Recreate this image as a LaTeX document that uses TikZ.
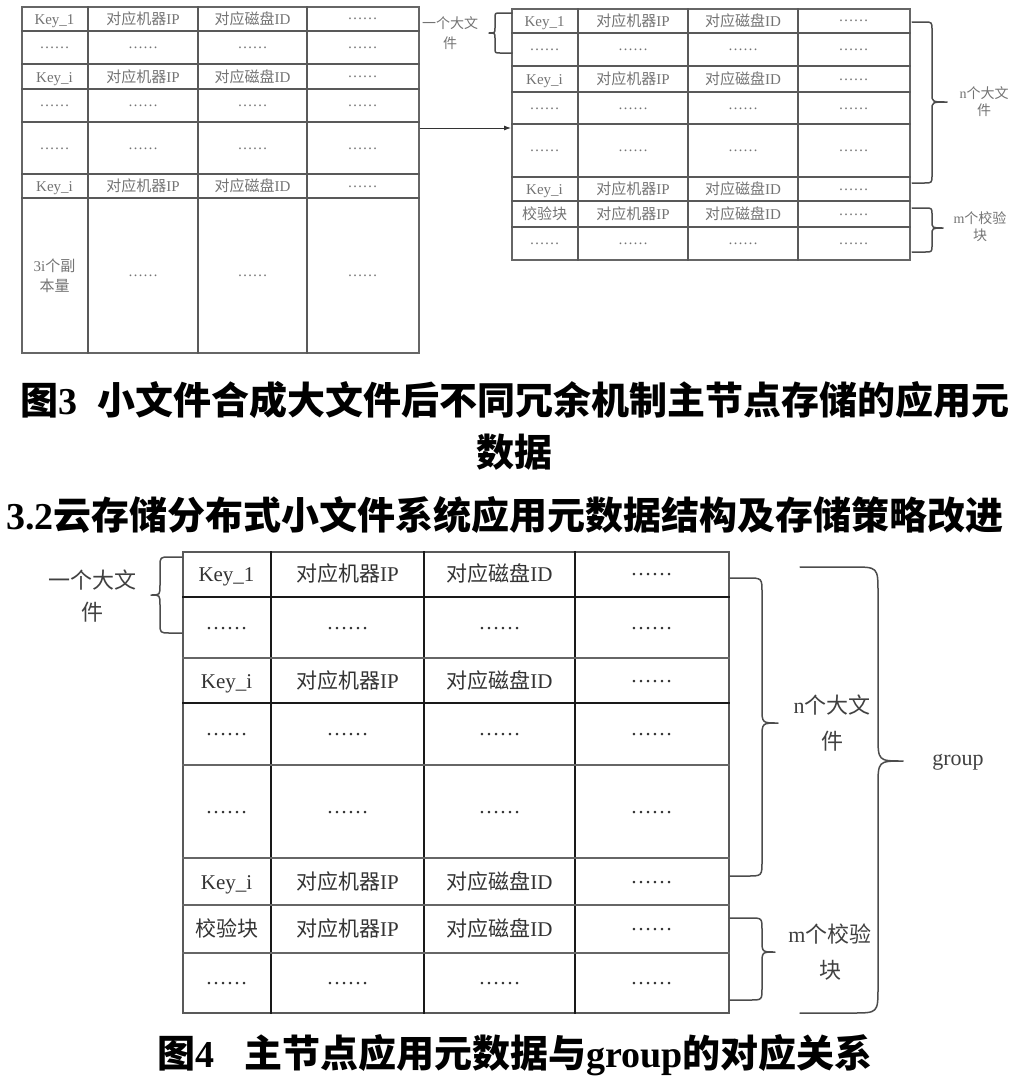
\documentclass[tikz,border=0pt]{standalone}
\usepackage{fontspec}
\setmainfont{Liberation Serif}
\newfontfamily\cjk{Noto Sans CJK SC}
\usetikzlibrary{arrows.meta, calc}

\newcommand{\zh}[1]{{\cjk #1}}
\newcommand{\dd}{\raisebox{0.3em}{……}}
% r, end x, bar x, tip x, top y, tip y, bottom y
\newcommand{\curlybrace}[7]{%
  \draw[brace] (#2,#5) -- ($(#3,#5)!#1pt!(#2,#5)$)
    .. controls (#3,#5) .. (#3,{#5+#1})
    -- (#3,{#6-#1}) .. controls (#3,#6) .. (#4,#6)
    .. controls (#3,#6) .. (#3,{#6+#1})
    -- (#3,{#7-#1}) .. controls (#3,#7) .. ($(#3,#7)!#1pt!(#2,#7)$)
    -- (#2,#7);}

\begin{document}
\begin{tikzpicture}[
        x=1pt, y=-1pt,
        tframe/.style={draw=black!60, line width=1.6pt, inner sep=0pt, anchor=north west},
        tline/.style={draw=black!65, line width=1.2pt},
        bframe/.style={draw=black!65, line width=2pt, inner sep=0pt, anchor=north west},
        bline/.style={draw=black!90, line width=1.1pt},
        bthick/.style={draw=black!60, line width=2.2pt},
        ttext/.style={font=\fontsize{15}{17}\selectfont, text=black!55, inner sep=0pt, text height=12pt, text depth=0.8pt},
        btext/.style={font=\fontsize{21}{24}\selectfont, text=black!80, inner sep=0pt, text height=16.8pt, text depth=1pt},
        tlabel/.style={font=\fontsize{14}{17}\selectfont, text=black!55, align=center, inner sep=0pt},
        blabel/.style={font=\fontsize{22}{36}\selectfont, text=black!75, align=center, inner sep=0pt},
        captext/.style={font=\bfseries\fontsize{38}{40}\selectfont, inner sep=0pt},
        brace/.style={draw=black!70, line width=1.5pt, line cap=round, line join=round},
        arrow/.style={-{Latex[length=7pt, width=5pt]}, draw=black!80, line width=0.9pt}
    ]
        \useasboundingbox (0,0) rectangle (1021,1079);

        % Tables
        \node[tframe, minimum width=397pt, minimum height=346pt] (tabA) at (21,6) {};
        \node[tframe, minimum width=398pt, minimum height=251pt] (tabB) at (511,8) {};
        \node[bframe, minimum width=546pt, minimum height=461pt] (tabC) at (182,551) {};

        \foreach \x in {88,198,307} \draw[tline] (\x,0 |- tabA.north) -- (\x,0 |- tabA.south);
        \foreach \y in {31,64,89,122,174,198} \draw[tline] (0,\y -| tabA.west) -- (0,\y -| tabA.east);
        \foreach \x in {578,688,798} \draw[tline] (\x,0 |- tabB.north) -- (\x,0 |- tabB.south);
        \foreach \y in {33,66,92,124,177,201,227} \draw[tline] (0,\y -| tabB.west) -- (0,\y -| tabB.east);
        \foreach \x in {271,424,575} \draw[bline] (\x,0 |- tabC.north) -- (\x,0 |- tabC.south);
        \foreach \y in {597,703} \draw[bline] (0,\y -| tabC.west) -- (0,\y -| tabC.east);
        \foreach \y in {658,765,858,905,953} \draw[bthick] (0,\y -| tabC.west) -- (0,\y -| tabC.east);

        % Cells, left table
        \foreach \n/\y/\k in {0/18.5/Key\_1, 2/76.5/Key\_i, 5/186/Key\_i} {
            \node[ttext] (a\n1) at (54.5,\y) {\k};
            \node[ttext] (a\n2) at (143,\y) {\zh{对应机器}IP};
            \node[ttext] (a\n3) at (252.5,\y) {\zh{对应磁盘}ID};
            \node[ttext] (a\n4) at (362.5,\y) {\dd};
        }
        \foreach \n/\y in {1/47.5, 3/105.5, 4/148}
            \foreach \m/\x in {1/54.5, 2/143, 3/252.5, 4/362.5}
                \node[ttext] (a\n\m) at (\x,\y) {\dd};
        \node[tlabel, font=\fontsize{15}{20}\selectfont] (a61) at (54.5,276) {3i\zh{个副}\\\zh{本量}};
        \foreach \m/\x in {2/143, 3/252.5, 4/362.5}
            \node[ttext] (a6\m) at (\x,275) {\dd};

        % Cells, right table
        \foreach \n/\y/\k in {0/20.5/Key\_1, 2/79/Key\_i, 5/189/Key\_i, 6/214/\zh{校验块}} {
            \node[ttext] (b\n1) at (544.5,\y) {\k};
            \node[ttext] (b\n2) at (633,\y) {\zh{对应机器}IP};
            \node[ttext] (b\n3) at (743,\y) {\zh{对应磁盘}ID};
            \node[ttext] (b\n4) at (853.5,\y) {\dd};
        }
        \foreach \n/\y in {1/49.5, 3/108, 4/150.5, 7/243}
            \foreach \m/\x in {1/544.5, 2/633, 3/743, 4/853.5}
                \node[ttext] (b\n\m) at (\x,\y) {\dd};

        % Cells, bottom table
        \foreach \n/\y/\k in {0/574/Key\_1, 2/680.5/Key\_i, 5/881.5/Key\_i, 6/929/\zh{校验块}} {
            \node[btext] (c\n1) at (226.5,\y) {\k};
            \node[btext] (c\n2) at (347.5,\y) {\zh{对应机器}IP};
            \node[btext] (c\n3) at (499.5,\y) {\zh{对应磁盘}ID};
            \node[btext] (c\n4) at (651.5,\y) {\dd};
        }
        \foreach \n/\y in {1/627.5, 3/734, 4/811.5, 7/982.5}
            \foreach \m/\x in {1/226.5, 2/347.5, 3/499.5, 4/651.5}
                \node[btext] (c\n\m) at (\x,\y) {\dd};

        % Labels
        \node[tlabel, font=\fontsize{14}{20}\selectfont] (oneT) at (450,33) {\zh{一个大文}\\\zh{件}};
        \node[tlabel] (nT) at (984,101.5) {n\zh{个大文}\\\zh{件}};
        \node[tlabel] (mT) at (980,226.5) {m\zh{个校验}\\\zh{块}};
        \node[blabel, font=\fontsize{22}{32}\selectfont] (oneB) at (92,596) {\zh{一个大文}\\\zh{件}};
        \node[blabel] (nB) at (832,723) {n\zh{个大文}\\\zh{件}};
        \node[blabel] (mB) at (830,952) {m\zh{个校验}\\\zh{块}};
        \node[blabel] (group) at (958,762) {group};

        % Braces
        \curlybrace{5}{512}{495}{489}{13}{33}{53}
        \curlybrace{8}{912}{932}{947}{22}{102}{183}
        \curlybrace{7}{912}{932}{943}{208}{228}{252}
        \curlybrace{10}{182}{160}{151}{557}{595}{633}
        \curlybrace{15}{730}{762}{778}{578}{723}{876}
        \curlybrace{12}{730}{762}{775}{918}{952}{1000}
        \curlybrace{26}{800}{878}{903}{567}{761}{1013}

        % Arrow
        \coordinate (arrowy) at (0,128);
        \draw[arrow] (tabA.east |- arrowy) -- (tabB.west |- arrowy);

        % Captions
        \node[captext] (cap3) at (515,400) {\zh{图}3\hspace{20pt}\zh{小文件合成大文件后不同冗余机制主节点存储的应用元}};
        \node[captext] (cap3b) at (514,452) {\zh{数据}};
        \node[captext] (head) at (505,515) {3.2\zh{云存储分布式小文件系统应用元数据结构及存储策略改进}};
        \node[captext] (cap4) at (515,1055) {\zh{图}4\hspace{30pt}\zh{主节点应用元数据与}group\zh{的对应关系}};
\end{tikzpicture}
\end{document}
